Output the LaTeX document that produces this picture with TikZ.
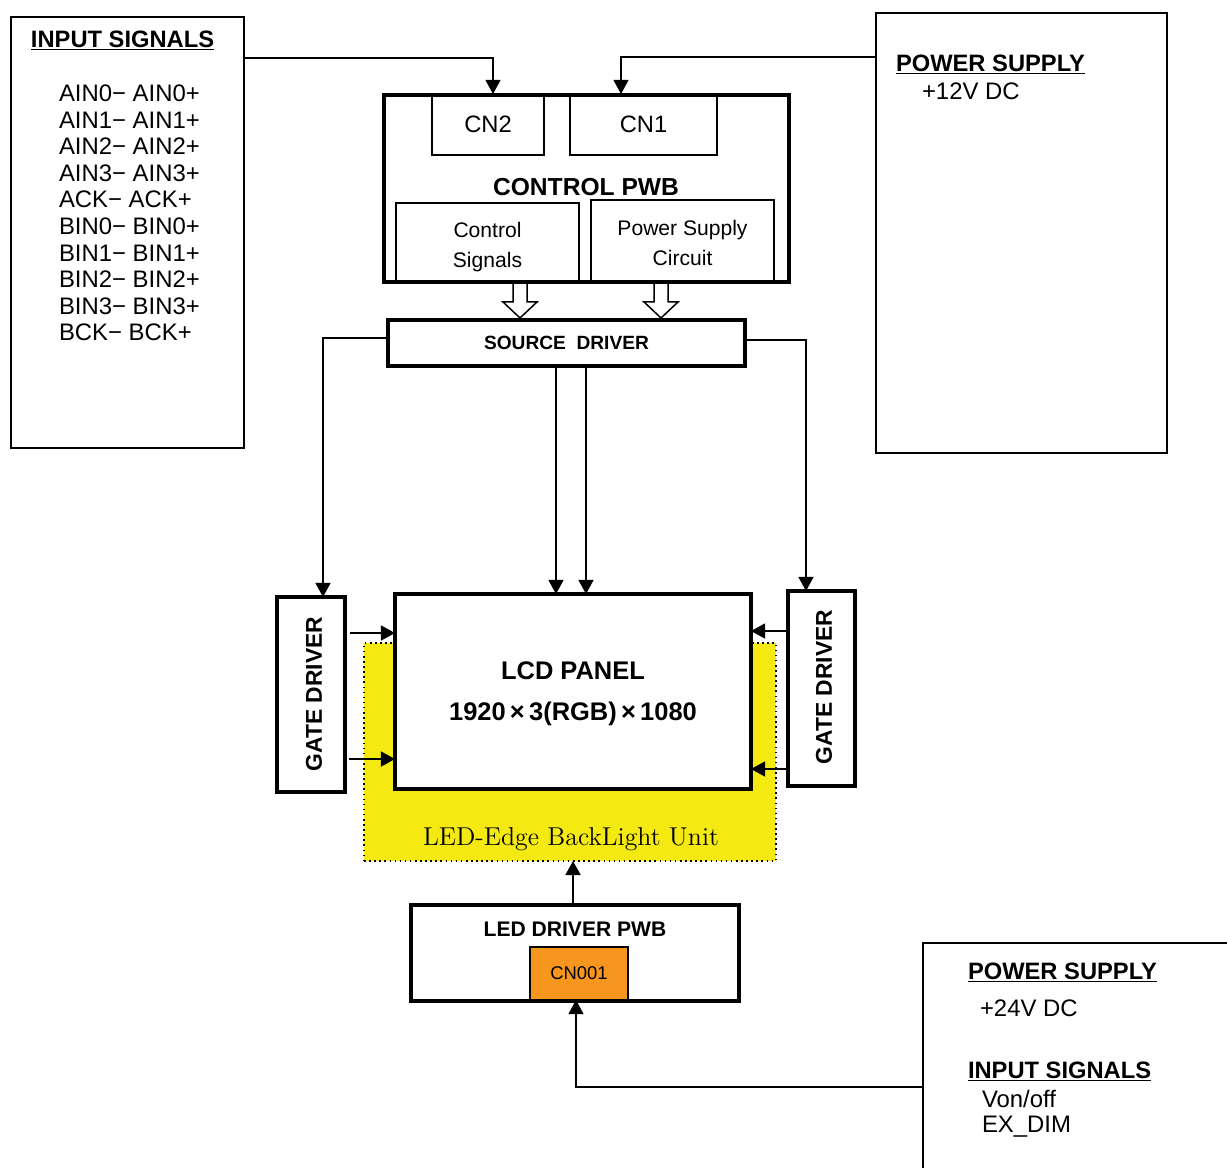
\documentclass[tikz,border=0pt]{standalone}
\usepackage{fontspec}
\setsansfont{Liberation Sans}
\usepackage{xcolor}
\usepackage{tikz}
\usetikzlibrary{arrows.meta}
\definecolor{bluyellow}{RGB}{244,234,18}
\definecolor{cnorange}{RGB}{247,150,30}

\begin{document}
\begin{tikzpicture}[x=0.02cm, y=-0.02cm,
    every node/.style={font=\sffamily, inner sep=0pt, outer sep=0pt},
    pbox/.style={draw, line width=0.85pt},
    tbox/.style={draw, line width=1.8pt},
    wire/.style={line width=0.85pt},
    arr/.style={wire, -{Triangle[length=8pt, width=8.5pt]}},
    hollowarr/.style={draw, line width=0.85pt, line join=miter},
    titletxt/.style={font=\sffamily\bfseries\fontsize{13.5}{16}\selectfont},
    bodytxt/.style={font=\sffamily\fontsize{13.6}{15.12}\selectfont},
    smalltxt/.style={font=\sffamily\fontsize{12}{14}\selectfont}]

    \useasboundingbox (0,0) rectangle (1227,1167);
    \clip (0,0) rectangle (1227,1167);

    % Ingressi
    \node[pbox, minimum width=4.66cm, minimum height=8.62cm] (inbox) at (127.5,232.5) {};
    \node[titletxt, anchor=base west] (intitle) at (31,47) {\underline{INPUT SIGNALS}};
    \node[bodytxt, anchor=north west, align=left] (inlist) at (59,85)
        {AIN0− AIN0+\\AIN1− AIN1+\\AIN2− AIN2+\\AIN3− AIN3+\\ACK− ACK+\\
         BIN0− BIN0+\\BIN1− BIN1+\\BIN2− BIN2+\\BIN3− BIN3+\\BCK− BCK+};

    % Alimentazione
    \node[pbox, minimum width=5.82cm, minimum height=8.8cm] (psbox) at (1021.5,233) {};
    \node[titletxt, anchor=base west] (pstitle) at (896,71) {\underline{POWER SUPPLY}};
    \node[bodytxt, anchor=base west] (psvolt) at (922,99) {+12V DC};

    % Control PWB
    \node[tbox, minimum width=8.1cm, minimum height=3.74cm] (ctrl) at (586.5,188.5) {};
    \node[pbox, minimum width=2.24cm, minimum height=1.22cm,
          font=\sffamily\fontsize{13.5}{16}\selectfont] (cntwo) at (488,124.5) {CN2};
    \node[pbox, minimum width=2.94cm, minimum height=1.22cm,
          font=\sffamily\fontsize{13.5}{16}\selectfont] (cnone) at (643.5,124.5) {CN1};
    \node[font=\sffamily\bfseries\fontsize{14}{16}\selectfont, anchor=base] (ctrltitle) at (586,195) {CONTROL PWB};
    \node[pbox, minimum width=3.66cm, minimum height=1.58cm] (sig) at (487.5,242.5) {};
    \node[smalltxt, anchor=base] (sigone) at (487.5,237) {Control};
    \node[smalltxt, anchor=base] (sigtwo) at (487.5,267) {Signals};
    \node[pbox, minimum width=3.66cm, minimum height=1.64cm] (psc) at (682.5,241) {};
    \node[smalltxt, anchor=base] (pscone) at (682.5,235) {Power Supply};
    \node[smalltxt, anchor=base] (psctwo) at (682.5,265) {Circuit};

    % Source driver
    \node[tbox, minimum width=7.14cm, minimum height=0.92cm,
          font=\sffamily\bfseries\fontsize{10.9}{12}\selectfont] (src) at (566.5,343) {SOURCE\ \ DRIVER};
    \coordinate (xj) at (520,0);
    \coordinate (xk) at (661,0);
    \draw[hollowarr] (ctrl.south -| xj) ++(-7,0) -- ++(0,20) -- ++(-10,0) -- ++(17,16) -- ++(17,-16) -- ++(-10,0) -- ++(0,-20);
    \draw[hollowarr] (ctrl.south -| xk) ++(-7,0) -- ++(0,20) -- ++(-10,0) -- ++(17,16) -- ++(17,-16) -- ++(-10,0) -- ++(0,-20);

    % Pannello
    \node[draw, dotted, line width=0.9pt, fill=bluyellow, minimum width=8.24cm, minimum height=4.36cm] (blu) at (570,752) {};
    \node[font=\rmfamily\fontsize{14.7}{16}\selectfont, anchor=base] (blutext) at (571,845) {LED-Edge BackLight Unit};
    \node[tbox, fill=white, minimum width=7.12cm, minimum height=3.9cm] (lcd) at (573,691.5) {};
    \node[font=\sffamily\bfseries\fontsize{14.5}{16}\selectfont, anchor=base] (lcdtitle) at (573,679) {LCD PANEL};
    \node[font=\sffamily\bfseries\fontsize{14.5}{16}\selectfont, anchor=base] (lcdres) at (573,720) {1920\,×\,3(RGB)\,×\,1080};

    % Gate driver
    \node[tbox, minimum width=1.36cm, minimum height=3.9cm] (gdl) at (311,694.5) {};
    \node[font=\sffamily\bfseries\fontsize{13}{16}\selectfont, rotate=90] (gdltext) at (314,694) {GATE DRIVER};
    \node[tbox, minimum width=1.34cm, minimum height=3.9cm] (gdr) at (821.5,688.5) {};
    \node[font=\sffamily\bfseries\fontsize{13}{16}\selectfont, rotate=90] (gdrtext) at (824,687) {GATE DRIVER};

    % LED driver
    \node[tbox, minimum width=6.56cm, minimum height=1.92cm] (led) at (575,953) {};
    \node[font=\sffamily\bfseries\fontsize{12}{14}\selectfont, anchor=base] (ledtitle) at (575,936) {LED DRIVER PWB};
    \node[pbox, fill=cnorange, minimum width=1.96cm, minimum height=1.06cm,
          font=\sffamily\fontsize{10.5}{12}\selectfont] (cnled) at (579,973.5) {CN001};

    % Alimentazione LED
    \node[pbox, minimum width=6.34cm, minimum height=4.74cm] (pstw) at (1081.5,1061.5) {};
    \node[titletxt, anchor=base west] (pstwtitle) at (968,979) {\underline{POWER SUPPLY}};
    \node[bodytxt, anchor=base west] (pstwvolt) at (980,1016) {+24V DC};
    \node[titletxt, anchor=base west] (intwtitle) at (968,1078) {\underline{INPUT SIGNALS}};
    \node[bodytxt, anchor=base west] (vonoff) at (982,1107) {Von/off};
    \node[bodytxt, anchor=base west] (exdim) at (982,1132) {EX\_DIM};

    % Collegamenti
    \coordinate (ya) at (0,58);   \coordinate (xa) at (493,0);
    \coordinate (yb) at (0,57);   \coordinate (xb) at (621,0);
    \coordinate (yc) at (0,338);  \coordinate (xc) at (323,0);
    \coordinate (yd) at (0,340);  \coordinate (xd) at (806,0);
    \coordinate (xe) at (556,0);  \coordinate (xf) at (586,0);
    \coordinate (yf) at (0,633);  \coordinate (yg) at (0,759);
    \coordinate (yh) at (0,631);  \coordinate (yi) at (0,769);
    \coordinate (xg) at (573,0);
    \coordinate (yj) at (0,1087); \coordinate (xh) at (576,0);

    \draw[arr] (inbox.east |- ya) -| (cntwo.north -| xa);
    \draw[arr] (psbox.west |- yb) -| (cnone.north -| xb);
    \draw[arr] (src.west |- yc) -| (gdl.north -| xc);
    \draw[arr] (src.east |- yd) -| (gdr.north -| xd);
    \draw[arr] (src.south -| xe) -- (lcd.north -| xe);
    \draw[arr] (src.south -| xf) -- (lcd.north -| xf);
    \draw[arr, shorten <=3pt] (gdl.east |- yf) -- (lcd.west |- yf);
    \draw[arr, shorten <=2pt] (gdl.east |- yg) -- (lcd.west |- yg);
    \draw[arr] (gdr.west |- yh) -- (lcd.east |- yh);
    \draw[arr] (gdr.west |- yi) -- (lcd.east |- yi);
    \draw[arr, line width=1.3pt] (led.north -| xg) -- (blu.south -| xg);
    \draw[arr] (pstw.west |- yj) -| (cnled.south -| xh);
\end{tikzpicture}
\end{document}
